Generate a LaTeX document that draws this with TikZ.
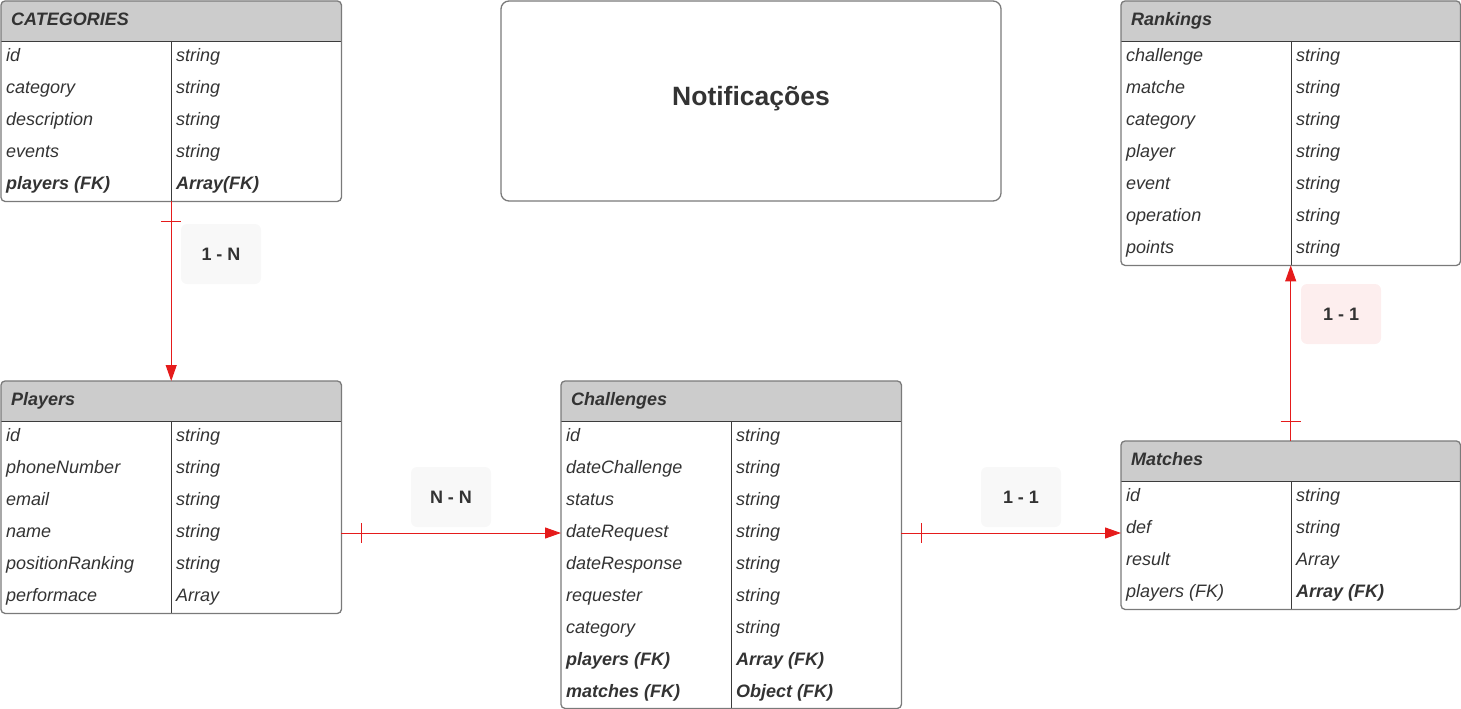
\documentclass[tikz,border=0pt]{standalone}
\usepackage{fontspec}
\setmainfont{Liberation Sans}
\usetikzlibrary{arrows.meta,calc}
\definecolor{txt}{HTML}{333333}
\definecolor{hdr}{HTML}{CCCCCC}
\definecolor{bord}{HTML}{7A7A7A}
\definecolor{sep}{HTML}{3C3C3C}
\definecolor{relred}{HTML}{E51B1B}
\definecolor{lblgray}{HTML}{F8F8F8}
\definecolor{lblpink}{HTML}{FDEEEE}
\tikzset{
  tblbox/.style={inner sep=0pt, anchor=north west},
  tblborder/.style={draw=bord, line width=1.3pt, rounded corners=4pt},
  tblsep/.style={draw=sep, line width=0.9pt},
  tbltitle/.style={anchor=west, inner sep=0pt, text height=13pt, text depth=4pt,
    font=\fontsize{18}{20}\selectfont\bfseries\itshape, text=txt},
  fld/.style={anchor=west, inner sep=0pt, text height=13pt, text depth=4pt,
    font=\fontsize{18}{20}\selectfont\itshape, text=txt},
  lbl/.style={inner sep=0pt, minimum width=80pt, minimum height=60pt, rounded corners=6pt,
    text height=13pt, text depth=0pt, font=\fontsize{18}{20}\selectfont\bfseries, text=txt},
  relline/.style={draw=relred, line width=1pt, -{Triangle[length=16pt,width=11pt]}},
  reltick/.style={draw=relred, line width=1pt},
}
% #1 name, #2 x, #3 y, #4 width, #5 height, #6 title, #7 rows
\newcommand\erdtable[7]{%
  \node[tblbox, minimum width=#4pt, minimum height=#5pt] (#1) at (#2,#3) {};
  \fill[hdr, rounded corners=4pt] (#1.north west) rectangle ($(#1.north east)+(0,40)$);
  \fill[hdr] ($(#1.north west)+(0,20)$) rectangle ($(#1.north east)+(0,40)$);
  \draw[tblsep] ($(#1.north west)+(0,40)$) -- ($(#1.north east)+(0,40)$);
  \draw[tblsep] ($(#1.north west)+(170,40)$) -- ($(#1.south west)+(170,0)$);
  \draw[tblborder] (#1.north west) rectangle (#1.south east);
  \node[tbltitle] (#1-title) at ($(#1.north west)+(10,20)$) {#6};
  \foreach \fa/\fb [count=\rn] in {#7} {
    \node[fld] (#1-\rn-a) at ($(#1.north west)+(5,24+32*\rn)$) {\fa};
    \node[fld] (#1-\rn-b) at ($(#1.north west)+(175,24+32*\rn)$) {\fb};
  }%
}
\begin{document}
\begin{tikzpicture}[x=1pt,y=-1pt]
\useasboundingbox (0,0) rectangle (1461,709);

\erdtable{cat}{1}{1}{340}{200}{CATEGORIES}{id/string, category/string, description/string, events/string, \textbf{players (FK)}/\textbf{Array(FK)}}

\erdtable{rk}{1121}{1}{339}{264}{Rankings}{challenge/string, matche/string, category/string, player/string, event/string, operation/string, points/string}

\erdtable{pl}{1}{381}{340}{232}{Players}{id/string, phoneNumber/string, email/string, name/string, positionRanking/string, performace/Array}

\erdtable{ch}{561}{381}{340}{327}{Challenges}{id/string, dateChallenge/string, status/string, dateRequest/string, dateResponse/string, requester/string, category/string, \textbf{players (FK)}/\textbf{Array (FK)}, \textbf{matches (FK)}/\textbf{Object (FK)}}

\erdtable{ma}{1121}{441}{339}{168}{Matches}{id/string, def/string, result/Array, players (FK)/\textbf{Array (FK)}}

\node[draw=bord, line width=1.3pt, rounded corners=8pt, minimum width=500pt, minimum height=200pt,
  inner sep=0pt, text height=19pt, text depth=11pt,
  font=\fontsize{26.5}{30}\selectfont\bfseries, text=txt] (notif) at (751,101) {Notificações};

% relationship labels
\node[lbl, fill=lblgray] (l1n) at (221,254) {1 - N};
\node[lbl, fill=lblgray] (lnn) at (451,497) {N - N};
\node[lbl, fill=lblgray] (l11a) at (1021,497) {1 - 1};
\node[lbl, fill=lblpink] (l11b) at (1341,314) {1 - 1};

% connectors
\draw[relline] (cat.south) -- (pl.north);
\draw[reltick] ($(cat.south)+(-10,20)$) -- ++(20,0);

\draw[relline] (pl.east |- pl-4-a) -- (ch.west |- pl-4-a);
\draw[reltick] ($(pl.east |- pl-4-a)+(20,-10)$) -- ++(0,20);

\draw[relline] (ch.east |- ch-4-a) -- (ma.west |- ch-4-a);
\draw[reltick] ($(ch.east |- ch-4-a)+(20,-10)$) -- ++(0,20);

\draw[relline] (ma.north) -- (rk.south);
\draw[reltick] ($(ma.north)+(-10,-20)$) -- ++(20,0);
\end{tikzpicture}
\end{document}
